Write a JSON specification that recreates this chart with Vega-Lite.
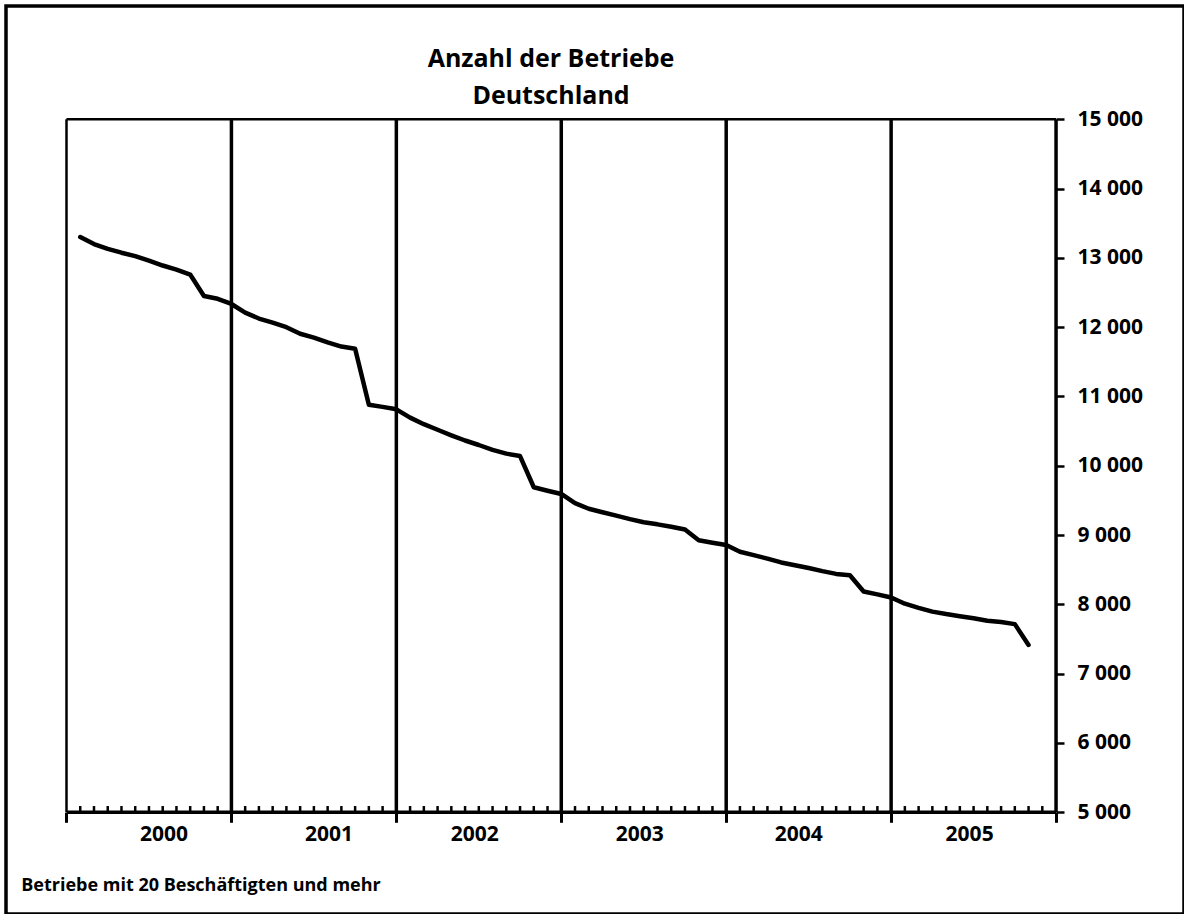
{
  "$schema": "https://vega.github.io/schema/vega-lite/v6.json",
  "autosize": {"type": "none"},
  "padding": {"left": 6, "top": 6, "right": 0, "bottom": 0},
  "width": 1178,
  "height": 908,
  "background": "white",
  "config": {
    "view": {"stroke": "black", "strokeWidth": 3.5},
    "font": "Open Sans"
  },
  "title": {
    "text": ["Anzahl der Betriebe", "Deutschland"],
    "anchor": "middle",
    "frame": "group",
    "dx": -44,
    "offset": -123,
    "baseline": "alphabetic",
    "fontSize": 25,
    "fontWeight": "bold",
    "font": "Open Sans",
    "color": "black",
    "lineHeight": 37
  },
  "datasets": {
    "series": [
      {"m": 1, "v": 13300}, {"m": 2, "v": 13200}, {"m": 3, "v": 13130}, {"m": 4, "v": 13075},
      {"m": 5, "v": 13025}, {"m": 6, "v": 12960}, {"m": 7, "v": 12890}, {"m": 8, "v": 12830},
      {"m": 9, "v": 12760}, {"m": 10, "v": 12450}, {"m": 11, "v": 12410}, {"m": 12, "v": 12335},
      {"m": 13, "v": 12210}, {"m": 14, "v": 12125}, {"m": 15, "v": 12065}, {"m": 16, "v": 12000},
      {"m": 17, "v": 11905}, {"m": 18, "v": 11850}, {"m": 19, "v": 11780}, {"m": 20, "v": 11720},
      {"m": 21, "v": 11690}, {"m": 22, "v": 10880}, {"m": 23, "v": 10850}, {"m": 24, "v": 10815},
      {"m": 25, "v": 10695}, {"m": 26, "v": 10600}, {"m": 27, "v": 10520}, {"m": 28, "v": 10440},
      {"m": 29, "v": 10365}, {"m": 30, "v": 10300}, {"m": 31, "v": 10230}, {"m": 32, "v": 10175},
      {"m": 33, "v": 10140}, {"m": 34, "v": 9690}, {"m": 35, "v": 9640}, {"m": 36, "v": 9593},
      {"m": 37, "v": 9460}, {"m": 38, "v": 9380}, {"m": 39, "v": 9330}, {"m": 40, "v": 9280},
      {"m": 41, "v": 9230}, {"m": 42, "v": 9185}, {"m": 43, "v": 9155}, {"m": 44, "v": 9120},
      {"m": 45, "v": 9080}, {"m": 46, "v": 8925}, {"m": 47, "v": 8890}, {"m": 48, "v": 8857},
      {"m": 49, "v": 8760}, {"m": 50, "v": 8710}, {"m": 51, "v": 8660}, {"m": 52, "v": 8605},
      {"m": 53, "v": 8565}, {"m": 54, "v": 8525}, {"m": 55, "v": 8480}, {"m": 56, "v": 8440},
      {"m": 57, "v": 8420}, {"m": 58, "v": 8185}, {"m": 59, "v": 8145}, {"m": 60, "v": 8100},
      {"m": 61, "v": 8010}, {"m": 62, "v": 7950}, {"m": 63, "v": 7895}, {"m": 64, "v": 7860},
      {"m": 65, "v": 7830}, {"m": 66, "v": 7800}, {"m": 67, "v": 7765}, {"m": 68, "v": 7745},
      {"m": 69, "v": 7715}, {"m": 70, "v": 7415}
    ],
    "bounds": [{"m": 12}, {"m": 24}, {"m": 36}, {"m": 48}, {"m": 60}],
    "minor": [
      {"m": 1}, {"m": 2}, {"m": 3}, {"m": 4}, {"m": 5}, {"m": 6}, {"m": 7}, {"m": 8}, {"m": 9}, {"m": 10}, {"m": 11},
      {"m": 13}, {"m": 14}, {"m": 15}, {"m": 16}, {"m": 17}, {"m": 18}, {"m": 19}, {"m": 20}, {"m": 21}, {"m": 22}, {"m": 23},
      {"m": 25}, {"m": 26}, {"m": 27}, {"m": 28}, {"m": 29}, {"m": 30}, {"m": 31}, {"m": 32}, {"m": 33}, {"m": 34}, {"m": 35},
      {"m": 37}, {"m": 38}, {"m": 39}, {"m": 40}, {"m": 41}, {"m": 42}, {"m": 43}, {"m": 44}, {"m": 45}, {"m": 46}, {"m": 47},
      {"m": 49}, {"m": 50}, {"m": 51}, {"m": 52}, {"m": 53}, {"m": 54}, {"m": 55}, {"m": 56}, {"m": 57}, {"m": 58}, {"m": 59},
      {"m": 61}, {"m": 62}, {"m": 63}, {"m": 64}, {"m": 65}, {"m": 66}, {"m": 67}, {"m": 68}, {"m": 69}, {"m": 70}, {"m": 71}
    ]
  },
  "layer": [
    {
      "data": {"name": "series"},
      "mark": {"type": "line", "color": "black", "strokeWidth": 4.5, "strokeJoin": "round", "strokeCap": "round"},
      "encoding": {
        "x": {
          "field": "m", "type": "quantitative",
          "scale": {"domain": [-4.402, 81.31], "nice": false, "zero": false},
          "axis": {
            "orient": "bottom",
            "offset": -101.7,
            "domain": false,
            "grid": false,
            "values": [0, 12, 24, 36, 48, 60, 72],
            "tickSize": 10,
            "tickWidth": 3,
            "tickColor": "black",
            "labelExpr": "datum.value < 72 ? '' + (2000 + datum.value / 12) : ''",
            "labelOffset": {"condition": [{"test": "datum.value < 24", "value": 97}, {"test": "datum.value == 48", "value": 72}], "value": 78},
            "labelFlush": false,
            "labelOverlap": false,
            "labelBound": false,
            "labelPadding": 1,
            "labelFontSize": 21,
            "labelFontWeight": "bold",
            "labelColor": "black",
            "labelFont": "Open Sans",
            "title": "Betriebe mit 20 Beschäftigten und mehr",
            "titleAnchor": "start",
            "titleAlign": "left",
            "titleBaseline": "alphabetic",
            "titleX": 14.7,
            "titleY": 78,
            "titleFontSize": 18,
            "titleFontWeight": "bold",
            "titleFont": "Open Sans",
            "titleColor": "black"
          }
        },
        "y": {
          "field": "v", "type": "quantitative",
          "scale": {"domain": [3532, 16635], "nice": false, "zero": false},
          "axis": {
            "orient": "right",
            "offset": -128,
            "domain": false,
            "grid": false,
            "values": [5000, 6000, 7000, 8000, 9000, 10000, 11000, 12000, 13000, 14000, 15000],
            "tickSize": 8,
            "tickWidth": 2.5,
            "tickColor": "black",
            "labelExpr": "replace(format(datum.value, ','), ',', ' ')",
            "labelPadding": 13,
            "labelFlush": false,
            "labelOverlap": false,
            "labelBound": false,
            "labelFontSize": 21,
            "labelFontWeight": "bold",
            "labelColor": "black",
            "labelFont": "Open Sans",
            "title": null
          }
        }
      }
    },
    {
      "data": {"name": "bounds"},
      "mark": {"type": "rule", "color": "black", "strokeWidth": 3.5},
      "encoding": {
        "x": {"field": "m", "type": "quantitative"},
        "y": {"datum": 5000},
        "y2": {"datum": 15000}
      }
    },
    {
      "data": {"name": "minor"},
      "mark": {"type": "rule", "color": "black", "strokeWidth": 2.5},
      "encoding": {
        "x": {"field": "m", "type": "quantitative"},
        "y": {"datum": 5000},
        "y2": {"datum": 5090}
      }
    },
    {
      "data": {"values": [{}]},
      "mark": {"type": "rule", "color": "black", "strokeWidth": 2.5},
      "encoding": {
        "x": {"datum": 0},
        "y": {"datum": 5000},
        "y2": {"datum": 15000}
      }
    },
    {
      "data": {"values": [{}]},
      "mark": {"type": "rule", "color": "black", "strokeWidth": 3.5},
      "encoding": {
        "x": {"datum": 72},
        "y": {"datum": 5000},
        "y2": {"datum": 15000}
      }
    },
    {
      "data": {"values": [{}]},
      "mark": {"type": "rule", "color": "black", "strokeWidth": 2.5},
      "encoding": {
        "x": {"datum": 0},
        "x2": {"datum": 72},
        "y": {"datum": 15000}
      }
    },
    {
      "data": {"values": [{}]},
      "mark": {"type": "rule", "color": "black", "strokeWidth": 3.5},
      "encoding": {
        "x": {"datum": 0},
        "x2": {"datum": 72},
        "y": {"datum": 5000}
      }
    }
  ]
}
